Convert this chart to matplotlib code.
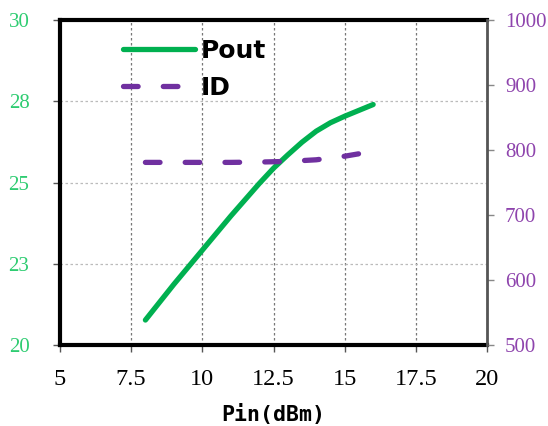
import matplotlib
matplotlib.use("Agg")
import matplotlib.pyplot as plt
from matplotlib.ticker import FixedLocator, FuncFormatter

# Data
pin = [8, 9, 10, 11, 12, 12.5, 13, 13.5, 14, 14.5, 15, 15.5, 16]
pout = [20.77, 21.87, 22.92, 23.97, 24.97, 25.44, 25.85, 26.24, 26.58, 26.84, 27.04, 27.22, 27.4]
pin_id = [8, 9, 10, 11, 12, 13, 14, 15, 16]
id_ma = [781, 781, 781, 781, 781.5, 782.5, 785, 790.5, 798]

x_ticks = [5, 7.5, 10, 12.5, 15, 17.5, 20]
left_ticks = [20, 22.5, 25, 27.5, 30]
right_ticks = [500, 600, 700, 800, 900, 1000]

green = "#00B050"
purple = "#7030A0"
green_lbl = "#2ECC71"
purple_lbl = "#8E44AD"

fig = plt.figure(figsize=(5.48, 4.26), dpi=100)
ax = fig.add_axes([0.1095, 0.19, 0.7792, 0.763])
ax2 = ax.twinx()

lw = 3.8
l1, = ax.plot(pin, pout, color=green, lw=lw, solid_capstyle="round", label="Pout", zorder=3)
l2, = ax2.plot(pin_id, id_ma, color=purple, lw=lw, dashes=(2.77, 4.77),
               dash_capstyle="round", label="ID", zorder=3)

ax.set_xlim(5, 20)
ax.set_ylim(20, 30)
ax2.set_ylim(500, 1000)

ax.xaxis.set_major_locator(FixedLocator(x_ticks))
ax.yaxis.set_major_locator(FixedLocator(left_ticks))
ax2.yaxis.set_major_locator(FixedLocator(right_ticks))
ax.xaxis.set_major_formatter(FuncFormatter(lambda v, p: f"{v:g}"))
# left labels rounded like reference (22.5 -> 23, 27.5 -> 28)
ax.yaxis.set_major_formatter(FuncFormatter(lambda v, p: str(int(v + 0.5))))

ax.grid(axis="x", color="#777777", ls=(0, (2, 2)), lw=0.9)
ax.grid(axis="y", color="#BBBBBB", ls=(0, (2, 2)), lw=0.9)

serif = "Liberation Serif"
for lbl in ax.get_xticklabels():
    lbl.set_fontfamily(serif)
    lbl.set_fontsize(17.5)
for lbl in ax.get_yticklabels():
    lbl.set_fontfamily(serif)
    lbl.set_fontsize(15)
    lbl.set_color(green_lbl)
for lbl in ax2.get_yticklabels():
    lbl.set_fontfamily(serif)
    lbl.set_fontsize(15)
    lbl.set_color(purple_lbl)

ax.tick_params(axis="x", length=5, width=1, color="#555555", pad=12)
ax.tick_params(axis="y", length=5, width=1, color="#555555", pad=17)
ax2.tick_params(axis="y", length=5, width=1, color="#888888", pad=8)

for s in ["left", "bottom", "top"]:
    ax.spines[s].set_linewidth(3)
    ax.spines[s].set_color("black")
ax.spines["right"].set_visible(False)
for s in ["left", "bottom", "top"]:
    ax2.spines[s].set_visible(False)
ax2.spines["right"].set_linewidth(2)
ax2.spines["right"].set_color("#555555")

ax.set_xlabel("Pin(dBm)", fontsize=15.5, fontweight="bold", family="DejaVu Sans Mono", labelpad=10)

leg = ax.legend([l1, l2], ["Pout", "ID"], loc="upper left", bbox_to_anchor=(0.1475, 0.943),
                frameon=False, borderpad=0, borderaxespad=0,
                handlelength=2.9, handletextpad=0.2, labelspacing=0.52,
                prop={"family": "DejaVu Sans", "weight": "bold", "size": 18})

fig.savefig("out.png", dpi=100)
